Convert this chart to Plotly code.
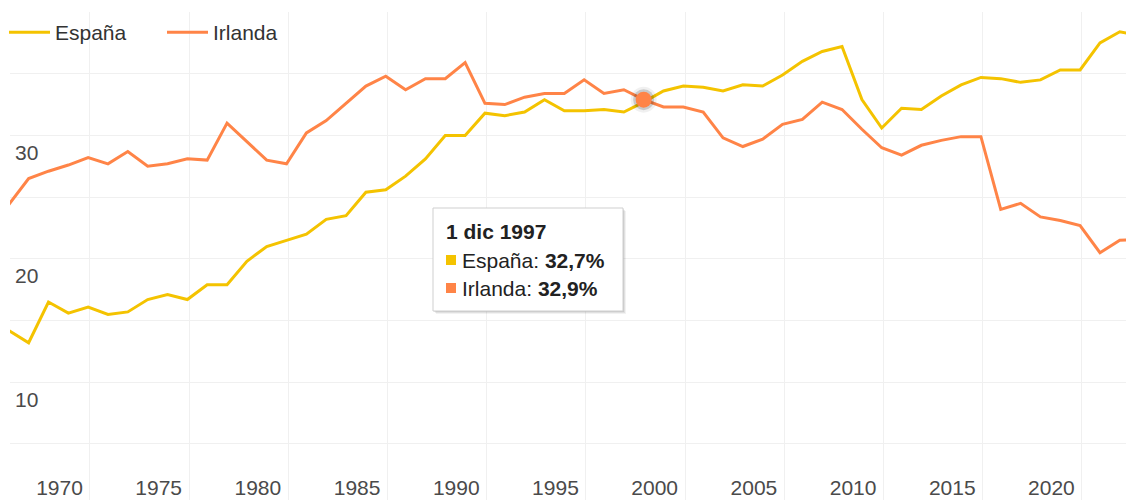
import plotly.graph_objects as go

# ---------------- data ----------------
years = list(range(1965, 2023))
espana = [14.2, 13.2, 16.5, 15.6, 16.1, 15.5, 15.7, 16.7, 17.1, 16.7,
          17.9, 17.9, 19.8, 21.0, 21.5, 22.0, 23.2, 23.5, 25.4, 25.6,
          26.7, 28.1, 30.0, 30.0, 31.8, 31.6, 31.9, 32.9, 32.0, 32.0,
          32.1, 31.9, 32.7, 33.6, 34.0, 33.9, 33.6, 34.1, 34.0, 34.9,
          36.0, 36.8, 37.2, 32.9, 30.6, 32.2, 32.1, 33.2, 34.1, 34.7,
          34.6, 34.3, 34.5, 35.3, 35.3, 37.5, 38.4, 38.1]
irlanda = [24.4, 26.5, 27.1, 27.6, 28.2, 27.7, 28.7, 27.5, 27.7, 28.1,
           28.0, 31.0, 29.5, 28.0, 27.7, 30.2, 31.2, 32.6, 34.0, 34.8,
           33.7, 34.6, 34.6, 35.9, 32.6, 32.5, 33.1, 33.4, 33.4, 34.5,
           33.4, 33.7, 32.9, 32.3, 32.3, 31.9, 29.8, 29.1, 29.7, 30.9,
           31.3, 32.7, 32.1, 30.5, 29.0, 28.4, 29.2, 29.6, 29.9, 29.9,
           24.0, 24.5, 23.4, 23.1, 22.7, 20.5, 21.5, 21.6]
series_names = ["España", "Irlanda"]
x_tick_years = [1970, 1975, 1980, 1985, 1990, 1995, 2000, 2005, 2010, 2015, 2020]
y_grid_vals = [5, 10, 15, 20, 25, 30, 35, 40]
y_tick_text = ["", "10", "", "20", "", "30", "", ""]
hover_year = 1997
hover_title = "1 dic 1997"
hover_es = "32,7%"
hover_ie = "32,9%"

COL_ES = "#F4C300"
COL_IE = "#FF8447"
TXT = "#4a4a4a"
GRID = "#f0f0f0"
FONT = "Liberation Sans, Arial, sans-serif"
FS = 21

W, H = 1126, 500
ML, MR, MT, MB = 10, 0, 12, 0
PW, PH = W - ML - MR, H - MT - MB


def px(xpix):
    return (xpix - ML) / PW


def py(ypix):
    return (H - MB - ypix) / PH


dates = [f"{y}-12-01" for y in years]

fig = go.Figure()
fig.add_trace(go.Scatter(x=dates, y=espana, name=series_names[0], mode="lines",
                         line=dict(color=COL_ES, width=3)))
fig.add_trace(go.Scatter(x=dates, y=irlanda, name=series_names[1], mode="lines",
                         line=dict(color=COL_IE, width=3)))

i = years.index(hover_year)
fig.add_trace(go.Scatter(x=[dates[i]], y=[irlanda[i]], mode="markers",
                         marker=dict(size=26, color="rgba(0,0,0,0.06)", line=dict(width=0)),
                         showlegend=False, hoverinfo="skip"))
fig.add_trace(go.Scatter(x=[dates[i]], y=[irlanda[i]], mode="markers",
                         marker=dict(size=21, color="rgba(0,0,0,0.16)", line=dict(width=0)),
                         showlegend=False, hoverinfo="skip"))
fig.add_trace(go.Scatter(x=[dates[i]], y=[irlanda[i]], mode="markers",
                         marker=dict(size=16, color=COL_IE, line=dict(width=0)),
                         showlegend=False, hoverinfo="skip"))

# ---------------- tooltip box ----------------
bx0, by0, bx1, by1 = 433, 208, 623, 311
shapes = []
for off, a in [(3, 0.05), (2, 0.07), (1, 0.09)]:
    shapes.append(dict(type="rect", xref="paper", yref="paper",
                       x0=px(bx0 + off), x1=px(bx1 + off), y0=py(by1 + off), y1=py(by0 + off),
                       line=dict(width=0), fillcolor=f"rgba(0,0,0,{a})", layer="above"))
shapes.append(dict(type="rect", xref="paper", yref="paper",
                   x0=px(bx0), x1=px(bx1), y0=py(by1), y1=py(by0),
                   line=dict(width=1, color="#cfcfcf"), fillcolor="white", layer="above"))
for yc, col in [(260, COL_ES), (288, COL_IE)]:
    shapes.append(dict(type="rect", xref="paper", yref="paper",
                       x0=px(446), x1=px(456), y0=py(yc + 5), y1=py(yc - 5),
                       line=dict(width=0), fillcolor=col, layer="above"))

annotations = [
    dict(xref="paper", yref="paper", x=px(444), y=py(231), xanchor="left", yanchor="middle",
         text=f"<b>{hover_title}</b>", showarrow=False,
         font=dict(family=FONT, size=FS, color="#222")),
    dict(xref="paper", yref="paper", x=px(460), y=py(260), xanchor="left", yanchor="middle",
         text=f"{series_names[0]}: <b>{hover_es}</b>", showarrow=False,
         font=dict(family=FONT, size=FS, color="#222")),
    dict(xref="paper", yref="paper", x=px(460), y=py(288), xanchor="left", yanchor="middle",
         text=f"{series_names[1]}: <b>{hover_ie}</b>", showarrow=False,
         font=dict(family=FONT, size=FS, color="#222")),
]

fig.update_layout(
    width=W, height=H,
    margin=dict(l=ML, r=MR, t=MT, b=MB, autoexpand=False),
    paper_bgcolor="white", plot_bgcolor="white",
    font=dict(family=FONT, size=FS, color=TXT),
    showlegend=True,
    legend=dict(orientation="h", x=px(4), xanchor="left", xref="paper",
                y=py(12), yanchor="top", yref="paper",
                itemwidth=41, entrywidth=102, entrywidthmode="pixels",
                font=dict(size=FS, color="#333"),
                bgcolor="rgba(0,0,0,0)"),
    xaxis=dict(type="date", range=["1965-12-23", "2022-03-25"],
               tickvals=[f"{y}-01-01" for y in x_tick_years],
               ticktext=[str(y) for y in x_tick_years],
               showgrid=True, gridcolor=GRID, gridwidth=1,
               zeroline=False, showline=False, ticks="",
               ticklabelposition="inside left", ticklabelshift=-7, ticklabelstandoff=-5,
               tickfont=dict(size=FS, color=TXT)),
    yaxis=dict(range=[0.46, 40], tickvals=y_grid_vals, ticktext=y_tick_text,
               showgrid=True, gridcolor=GRID, gridwidth=1,
               zeroline=False, showline=False, ticks="",
               ticklabelposition="inside", ticklabelshift=17, ticklabelstandoff=2,
               tickfont=dict(size=FS, color=TXT)),
    shapes=shapes,
    annotations=annotations,
    hovermode=False,
)

fig.write_html(
    "out.html",
    config={"displayModeBar": False},
    post_script="document.body.style.margin='0';document.body.style.overflow='hidden';",
)
